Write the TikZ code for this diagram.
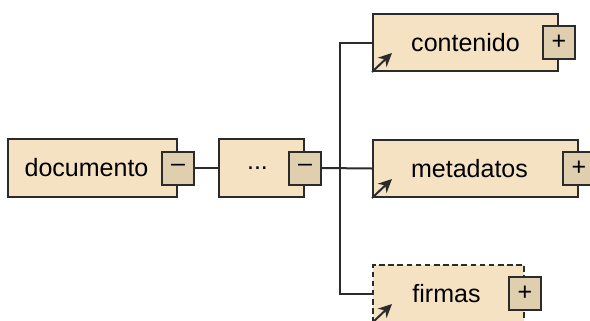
\documentclass[tikz,border=0pt]{standalone}
\usepackage{fontspec}
\setmainfont{Liberation Sans}
\usetikzlibrary{arrows.meta}

\definecolor{elemfill}{HTML}{F5E2C3}
\definecolor{togglefill}{HTML}{E0CFAE}
\definecolor{edgegray}{HTML}{2B2B2B}

\begin{document}
\begin{tikzpicture}[line width=0.5mm, line cap=butt, x=0.25mm, y=-0.25mm,
  elem/.style={draw=edgegray, fill=elemfill, inner sep=0pt, minimum height=14.25mm,
    font=\fontsize{17.8}{21}\selectfont},
  toggle/.style={draw=edgegray, fill=togglefill, inner sep=0pt, minimum width=8mm, minimum height=8.25mm,
    font=\fontsize{17.8}{21}\selectfont},
  refarrow/.style={draw=edgegray, -{Stealth[length=3.4mm,width=3.2mm]}}]
  \useasboundingbox (0,0) rectangle (590,320);
  \clip (0,0) rectangle (590,320);
  % --- root and sequence ---
  \node[elem, minimum width=42.25mm, minimum height=14.5mm] (doc) at (92.5,168) {documento\kern3mm};
  \node[toggle] (docm) at (doc.east) {--};
  \node[elem, minimum width=21.25mm, minimum height=14.5mm] (seq) at (261.5,168) {...\kern2mm};
  \node[toggle] (seqm) at (seq.east) {--};
  % --- children ---
  \node[elem, minimum width=46.25mm] (cont) at (465.5,42.5) {contenido};
  \node[toggle] (contp) at (cont.east) {+};
  \node[elem, minimum width=51.25mm] (meta) at (475.5,168.5) {\hspace{-3mm}metadatos};
  \node[toggle] (metap) at (meta.east) {+};
  \node[elem, dash pattern=on 4pt off 2.5pt, minimum width=37.75mm] (firm) at (448.5,293.5) {\hspace{-1mm}firmas};
  \node[toggle] (firmp) at (firm.east) {+};
  % --- connectors ---
  \coordinate (fork) at (340,168.5);
  \draw[edgegray] (docm.east) -- (seq.west);
  \draw[edgegray] (seqm.east) -- (meta.west);
  \draw[edgegray] (cont.west) -| (fork) |- (firm.west);
  % --- reference arrows ---
  \foreach \n in {cont,meta,firm}
    \draw[refarrow] (\n.south west) -- ++(20,-19);
\end{tikzpicture}
\end{document}
